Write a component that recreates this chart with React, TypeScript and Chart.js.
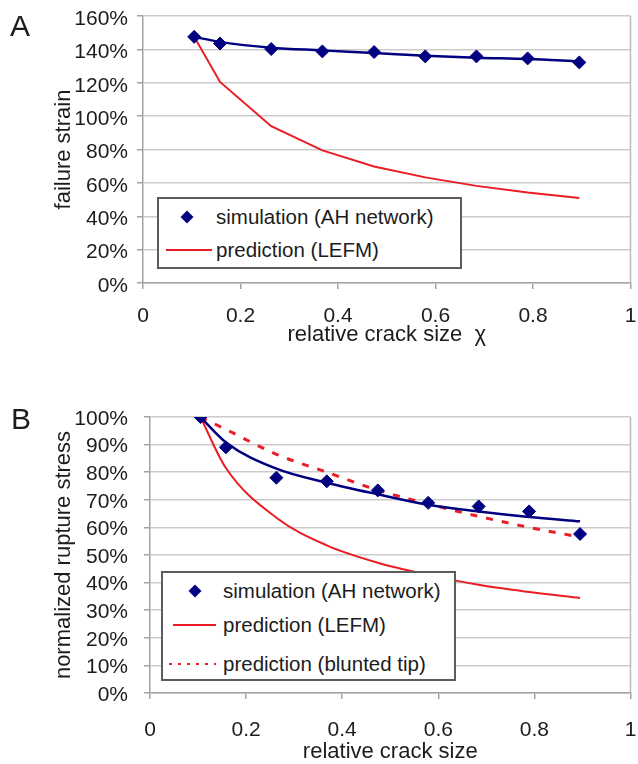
import React, { useEffect, useRef } from "react";
import { Chart, registerables } from "chart.js";

Chart.register(...registerables);

// ---------- data ----------
const crackSize = [0.105, 0.158, 0.263, 0.368, 0.474, 0.579, 0.684, 0.789, 0.895];

// Panel A: failure strain (%)
const strainSimA = [147.5, 143.5, 140.2, 138.8, 138.4, 135.8, 135.8, 134.6, 132.2];
const strainFitA = [147.5, 144.5, 141.0, 139.4, 137.8, 136.2, 135.0, 134.2, 132.8];
const strainLefmA = [147.5, 120.5, 94.0, 79.5, 69.8, 63.3, 58.2, 54.2, 51.0];

// Panel B: normalized rupture stress (%)
const stressSimB = [100, 89.0, 78.0, 76.7, 73.4, 68.9, 67.6, 65.8, 57.6];
const stressFitB = [100, 90.8, 81.3, 76.2, 72.0, 68.2, 65.8, 63.8, 62.2];
const stressLefmB = [100, 81.5, 63.5, 53.5, 47.2, 42.8, 39.2, 36.6, 34.4];
const stressBluntB = [100, 95.5, 86.5, 80.0, 73.5, 68.5, 64.0, 60.0, 56.5];

// ticks & labels
const xTickValues = [0, 0.2, 0.4, 0.6, 0.8, 1];
const xTickLabels = ["0", "0.2", "0.4", "0.6", "0.8", "1"];
const yTicksA = [0, 20, 40, 60, 80, 100, 120, 140, 160];
const yTicksB = [0, 10, 20, 30, 40, 50, 60, 70, 80, 90, 100];
const legendA = ["simulation (AH network)", "prediction (LEFM)"];
const legendB = ["simulation (AH network)", "prediction (LEFM)", "prediction (blunted tip)"];
const titlesA = { x: "relative crack size  \u03C7", y: "failure strain", panel: "A" };
const titlesB = { x: "relative crack size", y: "normalized rupture stress", panel: "B" };

// ---------- styles ----------
const FONT = '"Liberation Sans", Arial, Helvetica, sans-serif';
const NAVY = "#000080";
const RED = "#ea1c24";
const TEXT = "#1c1c1c";
const GRID = "#cbcbcb";
const AXIS = "#a3a3a3";

Chart.defaults.font.family = FONT;

const pts = (xs: number[], ys: number[]) => xs.map((x, i) => ({ x, y: ys[i] }));

const framePlugin = {
  id: "frameRight",
  beforeDatasetsDraw(chart: any) {
    const { ctx, chartArea } = chart;
    ctx.save();
    ctx.strokeStyle = "#bcbcbc";
    ctx.lineWidth = 1.5;
    ctx.beginPath();
    ctx.moveTo(chartArea.right, chartArea.top);
    ctx.lineTo(chartArea.right, chartArea.bottom);
    ctx.stroke();
    ctx.restore();
  },
};

type PanelOpts = {
  datasets: any[];
  yMax: number;
  yTicks: number[];
  xTitle: string;
  yTitle: string;
  yWidth: number;
  xHeight: number;
  padTop: number;
  padRight: number;
  yTickPad: number;
  xTickPad: number;
  yTitlePad: number;
  xTitlePad: number;
  yLabelOffset: number;
};

function panelConfig(o: PanelOpts): any {
  return {
    type: "line",
    data: { datasets: o.datasets },
    plugins: [framePlugin],
    options: {
      responsive: false,
      animation: false,
      events: [],
      layout: { padding: { top: o.padTop, right: o.padRight, bottom: 0, left: 0 } },
      plugins: { legend: { display: false }, tooltip: { enabled: false } },
      scales: {
        x: {
          type: "linear",
          min: 0,
          max: 1,
          afterBuildTicks: (s: any) => {
            s.ticks = xTickValues.map((v) => ({ value: v }));
          },
          afterFit: (s: any) => {
            s.height = o.xHeight;
            s.paddingLeft = 0;
            s.paddingRight = 0;
            s.paddingTop = 0;
            s.paddingBottom = 0;
          },
          ticks: {
            autoSkip: false,
            maxRotation: 0,
            padding: o.xTickPad,
            color: TEXT,
            font: { size: 21 },
            callback: (_v: any, i: number) => xTickLabels[i],
          },
          grid: { drawOnChartArea: false, tickLength: 6, tickColor: AXIS, lineWidth: 1.5 },
          border: { color: AXIS, width: 1.5 },
          title: {
            display: true,
            text: o.xTitle,
            color: TEXT,
            font: { size: 22, lineHeight: 1 },
            padding: { top: 0, bottom: o.xTitlePad },
          },
        },
        y: {
          type: "linear",
          min: 0,
          max: o.yMax,
          afterBuildTicks: (s: any) => {
            s.ticks = o.yTicks.map((v) => ({ value: v }));
          },
          afterFit: (s: any) => {
            s.width = o.yWidth;
            s.paddingLeft = 0;
            s.paddingRight = 0;
            s.paddingTop = 0;
            s.paddingBottom = 0;
          },
          ticks: {
            autoSkip: false,
            padding: o.yTickPad,
            color: TEXT,
            font: { size: 21 },
            labelOffset: o.yLabelOffset,
            callback: (v: any) => `${v}%`,
          },
          grid: { color: GRID, lineWidth: 1.5, tickLength: 6, tickColor: AXIS },
          border: { color: AXIS, width: 1.5 },
          title: {
            display: true,
            text: o.yTitle,
            color: TEXT,
            font: { size: 22, lineHeight: 1 },
            padding: { top: o.yTitlePad, bottom: 0 },
          },
        },
      },
    },
  };
}

const simStyle = {
  showLine: false,
  pointStyle: "rectRot",
  pointRadius: 6.5,
  pointBackgroundColor: NAVY,
  pointBorderColor: NAVY,
  pointBorderWidth: 1,
};

type Row = { kind: "diamond" | "line" | "dots"; label: string; cy: number; x1: number; x2: number };

function LegendBox(props: { left: number; top: number; width: number; height: number; textX: number; rows: Row[] }) {
  const { left, top, width, height, textX, rows } = props;
  return (
    <div
      style={{
        position: "absolute",
        left,
        top,
        width,
        height,
        boxSizing: "border-box",
        border: "2px solid #5c5c5c",
        background: "#ffffff",
      }}
    >
      <svg width={width} height={height} style={{ position: "absolute", left: -2, top: -2 }}>
        {rows.map((r, i) => {
          if (r.kind === "diamond") {
            const cx = (r.x1 + r.x2) / 2;
            const s = 6.5;
            return (
              <polygon
                key={i}
                points={`${cx},${r.cy - s} ${cx + s},${r.cy} ${cx},${r.cy + s} ${cx - s},${r.cy}`}
                fill={NAVY}
              />
            );
          }
          return (
            <line
              key={i}
              x1={r.x1}
              x2={r.x2}
              y1={r.cy}
              y2={r.cy}
              stroke={RED}
              strokeWidth={2}
              strokeDasharray={r.kind === "dots" ? "3 6" : undefined}
            />
          );
        })}
      </svg>
      {rows.map((r, i) => (
        <div
          key={i}
          style={{
            position: "absolute",
            left: textX - 2,
            top: r.cy - 2 - 12,
            height: 24,
            lineHeight: "24px",
            fontSize: 20.5,
            color: TEXT,
            whiteSpace: "nowrap",
          }}
        >
          {r.label}
        </div>
      ))}
    </div>
  );
}

export default function App() {
  const refA = useRef<HTMLCanvasElement>(null);
  const refB = useRef<HTMLCanvasElement>(null);

  useEffect(() => {
    const chartA = new Chart(
      refA.current as HTMLCanvasElement,
      panelConfig({
        datasets: [
          { label: legendA[0], data: pts(crackSize, strainSimA), ...simStyle },
          {
            label: "fit",
            data: pts(crackSize, strainFitA),
            borderColor: NAVY,
            borderWidth: 2.5,
            pointRadius: 0,
            cubicInterpolationMode: "monotone",
          },
          {
            label: legendA[1],
            data: pts(crackSize, strainLefmA),
            borderColor: RED,
            borderWidth: 2,
            pointRadius: 0,
            tension: 0,
          },
        ],
        yMax: 160,
        yTicks: yTicksA,
        xTitle: titlesA.x,
        yTitle: titlesA.y,
        yWidth: 143,
        xHeight: 66,
        padTop: 16,
        padRight: 2,
        yTickPad: 9,
        xTickPad: 15,
        yTitlePad: 53,
        xTitlePad: 3,
        yLabelOffset: 3,
      })
    );

    const chartB = new Chart(
      refB.current as HTMLCanvasElement,
      panelConfig({
        datasets: [
          { label: legendB[0], data: pts(crackSize, stressSimB), ...simStyle },
          {
            label: "fit",
            data: pts(crackSize, stressFitB),
            borderColor: NAVY,
            borderWidth: 2.5,
            pointRadius: 0,
            cubicInterpolationMode: "monotone",
          },
          {
            label: legendB[1],
            data: pts(crackSize, stressLefmB),
            borderColor: RED,
            borderWidth: 2,
            pointRadius: 0,
            cubicInterpolationMode: "monotone",
          },
          {
            label: legendB[2],
            data: pts(crackSize, stressBluntB),
            borderColor: RED,
            borderWidth: 3,
            borderDash: [7, 9],
            pointRadius: 0,
            cubicInterpolationMode: "monotone",
          },
        ],
        yMax: 100,
        yTicks: yTicksB,
        xTitle: titlesB.x,
        yTitle: titlesB.y,
        yWidth: 150,
        xHeight: 71,
        padTop: 47,
        padRight: 6,
        yTickPad: 16,
        xTickPad: 19,
        yTitlePad: 53,
        xTitlePad: 1,
        yLabelOffset: 2,
      })
    );

    return () => {
      chartA.destroy();
      chartB.destroy();
    };
  }, []);

  return (
    <div
      style={{
        position: "absolute",
        left: 0,
        top: 0,
        width: 638,
        height: 764,
        overflow: "hidden",
        background: "#ffffff",
        fontFamily: FONT,
      }}
    >
      <canvas ref={refA} width={638} height={349} style={{ position: "absolute", left: 0, top: 0 }} />
      <canvas ref={refB} width={638} height={394} style={{ position: "absolute", left: 0, top: 370 }} />
      <div style={{ position: "absolute", left: 10, top: 11, fontSize: 30, lineHeight: "30px", color: TEXT }}>
        {titlesA.panel}
      </div>
      <div style={{ position: "absolute", left: 11, top: 404, fontSize: 30, lineHeight: "30px", color: TEXT }}>
        {titlesB.panel}
      </div>
      <LegendBox
        left={157}
        top={197}
        width={305}
        height={72}
        textX={59}
        rows={[
          { kind: "diamond", label: legendA[0], cy: 20, x1: 24, x2: 36 },
          { kind: "line", label: legendA[1], cy: 53, x1: 9, x2: 55 },
        ]}
      />
      <LegendBox
        left={161}
        top={571}
        width={295}
        height={110}
        textX={62}
        rows={[
          { kind: "diamond", label: legendB[0], cy: 20, x1: 28, x2: 40 },
          { kind: "line", label: legendB[1], cy: 54, x1: 12, x2: 55 },
          { kind: "dots", label: legendB[2], cy: 93, x1: 8, x2: 55 },
        ]}
      />
    </div>
  );
}
